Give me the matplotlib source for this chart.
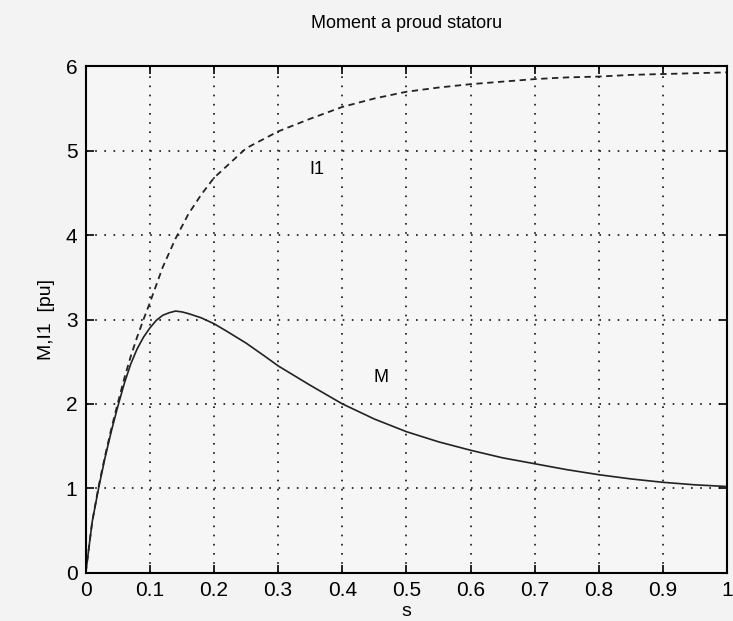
import numpy as np
import matplotlib.pyplot as plt

# skluz s, moment M a proud statoru I1
s_M = [0, 0.005, 0.01, 0.02, 0.03, 0.04, 0.05, 0.06, 0.07, 0.08, 0.09, 0.10,
       0.11, 0.12, 0.13, 0.14, 0.15, 0.16, 0.18, 0.20, 0.22, 0.25, 0.28, 0.30,
       0.35, 0.40, 0.45, 0.50, 0.55, 0.60, 0.65, 0.70, 0.75, 0.80, 0.85, 0.90,
       0.95, 1.00]
M = [0, 0.3, 0.6, 1.0, 1.36, 1.68, 1.97, 2.24, 2.47, 2.65, 2.79, 2.90,
     2.99, 3.05, 3.08, 3.10, 3.09, 3.07, 3.02, 2.95, 2.86, 2.72, 2.56, 2.45,
     2.22, 2.00, 1.82, 1.67, 1.55, 1.45, 1.36, 1.29, 1.22, 1.16, 1.11, 1.07,
     1.04, 1.02]

s_I = [0, 0.005, 0.01, 0.02, 0.03, 0.04, 0.05, 0.06, 0.07, 0.08, 0.09, 0.10,
       0.12, 0.14, 0.16, 0.18, 0.20, 0.25, 0.30, 0.35, 0.40, 0.45, 0.50, 0.55,
       0.60, 0.65, 0.70, 0.75, 0.80, 0.85, 0.90, 0.95, 1.00]
I1 = [0, 0.3, 0.6, 1.02, 1.38, 1.71, 2.01, 2.3, 2.56, 2.79, 3.0, 3.2,
      3.62, 3.96, 4.25, 4.48, 4.68, 5.03, 5.23, 5.38, 5.52, 5.62, 5.70, 5.75,
      5.79, 5.82, 5.85, 5.87, 5.88, 5.90, 5.91, 5.92, 5.93]

xticks = [0, 0.1, 0.2, 0.3, 0.4, 0.5, 0.6, 0.7, 0.8, 0.9, 1]
xlabels = ["0", "0.1", "0.2", "0.3", "0.4", "0.5", "0.6", "0.7", "0.8", "0.9", "1"]
yticks = [0, 1, 2, 3, 4, 5, 6]

plt.rcParams['font.family'] = ['Liberation Sans Narrow', 'Liberation Sans', 'DejaVu Sans']

fig = plt.figure(figsize=(7.33, 6.21), dpi=100, facecolor='#f3f3f3')
ax = fig.add_axes([0.117, 0.078, 0.875, 0.815])
ax.set_facecolor('#f6f6f6')

ax.plot(s_M, M, color='#222222', linewidth=1.2)
ax.plot(s_I, I1, color='#222222', linewidth=1.3, linestyle=(0, (3.5, 2.5)))

ax.text(0.36, 4.78, "I1", fontsize=13, ha='center', va='center')
ax.text(0.46, 2.31, "M", fontsize=13, ha='center', va='center')

ax.set_xlim(0, 1)
ax.set_ylim(0, 6)
ax.set_xticks(xticks)
ax.set_xticklabels(xlabels)
ax.set_yticks(yticks)
ax.tick_params(direction='in', top=True, right=True, labelsize=15, length=6, width=1.2, pad=6)
ax.grid(True, color='#111111', linestyle=(0, (1, 4.5)), linewidth=1.2)
for sp in ax.spines.values():
    sp.set_linewidth(1.5)

ax.set_title("Moment a proud statoru", fontsize=13, pad=28)
ax.set_xlabel("s", fontsize=14, labelpad=2)
ax.set_ylabel("M,I1  [pu]", fontsize=14, labelpad=8)

fig.savefig("out.png", dpi=100, facecolor=fig.get_facecolor())
